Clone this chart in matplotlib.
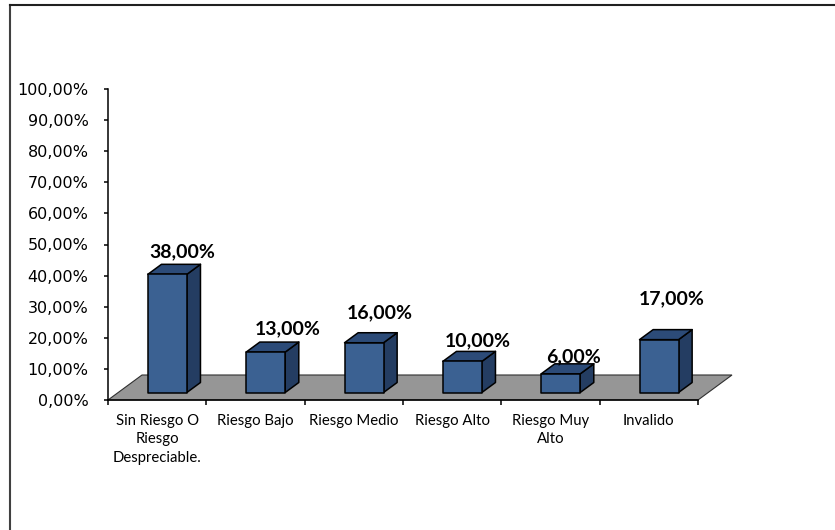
import matplotlib.pyplot as plt
from matplotlib.patches import Polygon
from matplotlib.lines import Line2D

categorias = ['Sin Riesgo O\nRiesgo\nDespreciable.', 'Riesgo Bajo', 'Riesgo Medio',
              'Riesgo Alto', 'Riesgo Muy\nAlto', 'Invalido']
porcentajes = [38, 13, 16, 10, 6, 17]
marcas_y = list(range(0, 101, 10))

# desplazamiento de cada etiqueta respecto a la cara frontal (px)
etiqueta_dx = [15, 22, 16, 15, 13, 13]
etiqueta_dy = [23, 23, 30, 21, 17, 41]

FRENTE = '#3b6192'
LADO = '#243d62'
TAPA = '#2c4b78'
PISO = '#969696'


def pct(v):
    return f'{v:.2f}%'.replace('.', ',')


fig = plt.figure(figsize=(8.35, 5.30), dpi=100)
ax = fig.add_axes([108 / 835, 1 - 400 / 530, 590 / 835, 311 / 530])
ax.set_xlim(0, len(categorias))
ax.set_ylim(0, 100)

# escala px -> datos para el efecto 3D
px_x = len(categorias) / 590
px_y = 100 / 311
fondo_x, fondo_y = 34 * px_x, 25 * px_y
ancho = 39 * px_x
n = len(categorias)

piso = Polygon([(0, 0), (n, 0), (n + fondo_x, fondo_y), (fondo_x, fondo_y)],
               closed=True, facecolor=PISO, edgecolor='#303030', lw=0.8,
               zorder=1, clip_on=False)
ax.add_patch(piso)

bx, by = 0.4 * fondo_x, 0.4 * fondo_y
for i, v in enumerate(porcentajes):
    x0 = i + 0.5 - ancho / 2 + 0.3 * fondo_x
    y0 = 0.3 * fondo_y
    caras = [
        ([(x0 + ancho, y0), (x0 + ancho + bx, y0 + by),
          (x0 + ancho + bx, y0 + v + by), (x0 + ancho, y0 + v)], LADO),
        ([(x0, y0 + v), (x0 + ancho, y0 + v),
          (x0 + ancho + bx, y0 + v + by), (x0 + bx, y0 + v + by)], TAPA),
        ([(x0, y0), (x0 + ancho, y0), (x0 + ancho, y0 + v), (x0, y0 + v)], FRENTE),
    ]
    for pts, c in caras:
        ax.add_patch(Polygon(pts, closed=True, facecolor=c, edgecolor='black',
                             lw=1.1, joinstyle='round', zorder=3, clip_on=False))
    ax.annotate(pct(v), (x0 + ancho / 2, y0 + v),
                xytext=(etiqueta_dx[i] * 0.72, etiqueta_dy[i] * 0.72),
                textcoords='offset points', ha='center', va='center',
                fontfamily='Lato', fontweight='bold', fontsize=14,
                annotation_clip=False)

for s in ['top', 'right']:
    ax.spines[s].set_visible(False)
for s in ['left', 'bottom']:
    ax.spines[s].set_linewidth(1.1)
    ax.spines[s].set_color('black')

ax.set_yticks(marcas_y)
ax.set_yticklabels([pct(t) for t in marcas_y], fontfamily='DejaVu Sans', fontsize=11.5)
ax.tick_params(axis='y', length=3, width=1.1, pad=11)

ax.set_xticks(range(n + 1))
ax.set_xticklabels([])
ax.set_xticks([i + 0.5 for i in range(n)], minor=True)
ax.set_xticklabels(categorias, minor=True, fontfamily='Lato', fontsize=10.7,
                   linespacing=1.4)
ax.tick_params(axis='x', which='major', length=3.6, width=1.1)
ax.tick_params(axis='x', which='minor', length=0, pad=10)

# marco del grafico
fig.add_artist(Line2D([9.5 / 835, 9.5 / 835], [0, 1 - 5.3 / 530],
                      transform=fig.transFigure, color='#404040', lw=1.5))
fig.add_artist(Line2D([9.5 / 835, 1], [1 - 5.3 / 530, 1 - 5.3 / 530],
                      transform=fig.transFigure, color='#202020', lw=1.5))

fig.savefig('out.png', dpi=100)
